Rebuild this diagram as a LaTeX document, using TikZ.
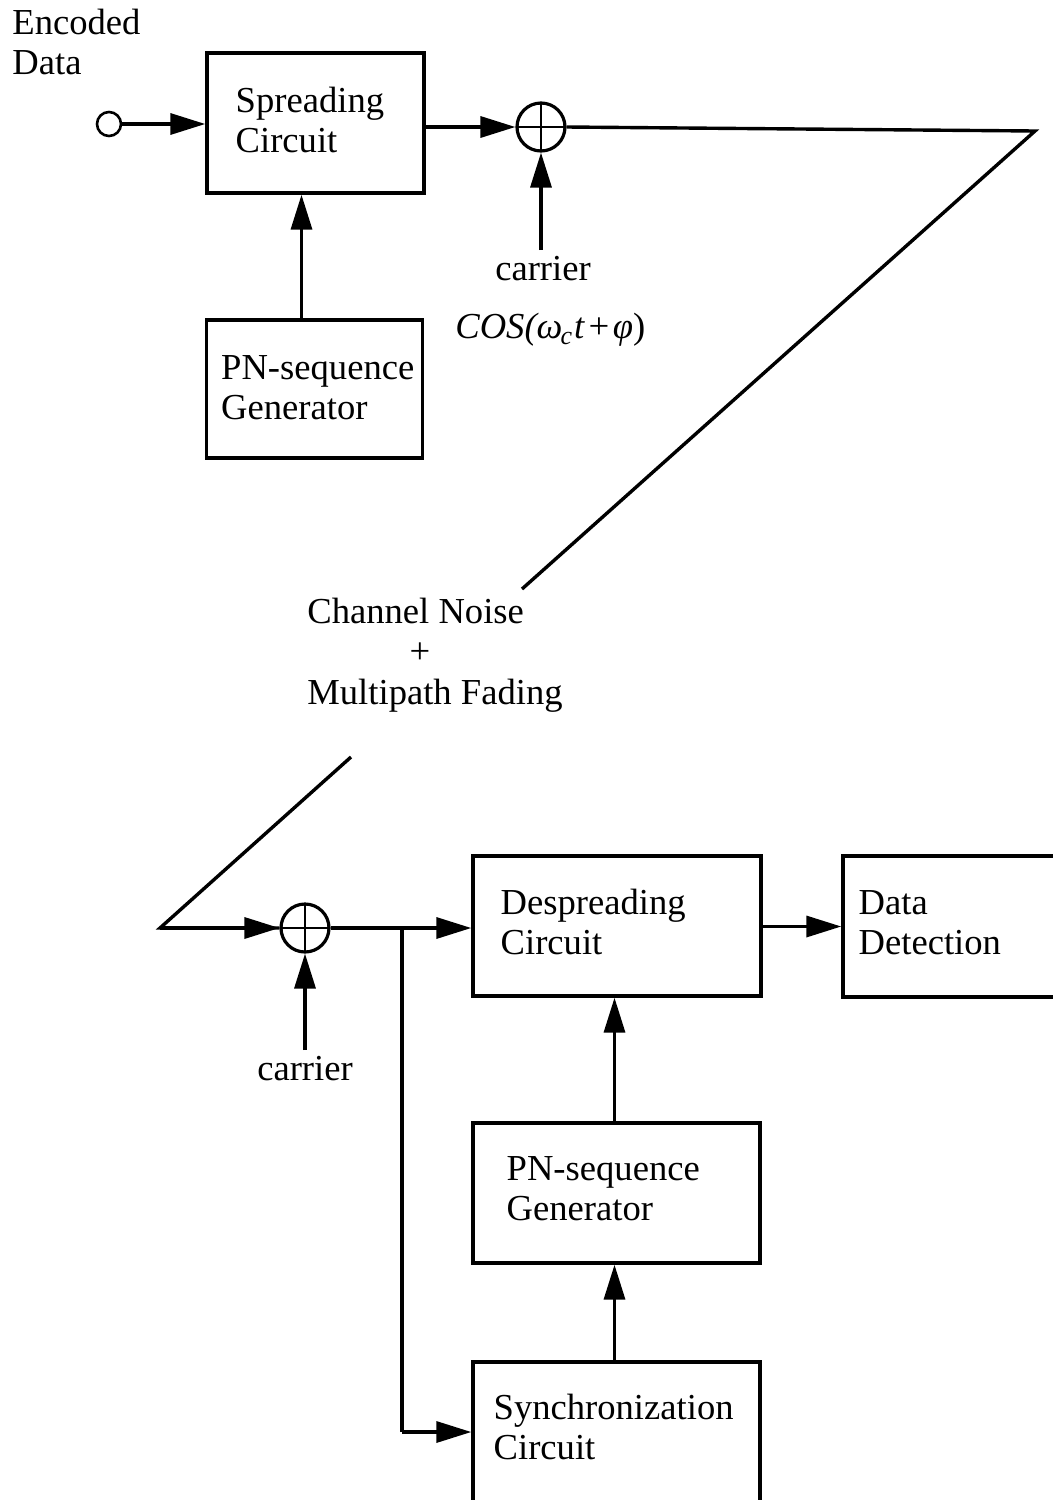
\documentclass[tikz,border=0pt]{standalone}
\usepackage{fontspec}
\setmainfont{Liberation Serif}
\usetikzlibrary{arrows.meta}

\tikzset{
  wire/.style={line width=1.7pt},
  arr/.style={wire, -{Triangle[length=17.5pt,width=10.5pt]}},
  blk/.style={draw, line width=1.7pt, inner sep=0pt},
  lbl/.style={inner sep=0pt, align=left, font=\fontsize{18.3}{20}\selectfont},
  mixer/.style={circle, draw, line width=1.6pt, minimum size=24pt, inner sep=0pt,
    path picture={
      \draw[line width=1.2pt] (path picture bounding box.north) -- (path picture bounding box.south)
                              (path picture bounding box.west) -- (path picture bounding box.east);}},
}

\begin{document}
\begin{tikzpicture}[x=0.5pt,y=-0.5pt]
\useasboundingbox (0,0) rectangle (1053,1500);

% ---------------- transmitter ----------------
\node[lbl, anchor=north west] (enc) at (12,9) {Encoded\\Data};
\node[circle, draw, line width=1.3pt, minimum size=12pt, inner sep=0pt] (src) at (109,124) {};

\node[blk, minimum width=108.5pt, minimum height=70pt] (spread) at (315.5,123) {};
\node[lbl, anchor=west] (spreadT) at ([xshift=15pt,yshift=1.5pt]spread.west) {Spreading\\Circuit};

\node[blk, minimum width=108pt, minimum height=69pt] (pn1) at (314.5,389) {};
\node[lbl, anchor=west] (pn1T) at ([xshift=8pt,yshift=0.5pt]pn1.west) {PN-sequence\\Generator};

\node[mixer] (sum1) at (541,127) {};
\node[lbl, anchor=base] (car1) at (543,280) {carrier};
\node[lbl, anchor=base west] (cos) at (455,338)
  {\itshape COS(ω\kern-1pt\raisebox{-3pt}{\fontsize{13}{13}\selectfont c}\kern1pt t\kern1pt+\kern1pt φ\upshape)};

\coordinate (tc) at (1035,131);
\coordinate (te) at (522,589);

\draw[arr] (src.east) -- (spread.west |- src);
\draw[arr] (spread.east |- sum1) -- (sum1.west);
\draw[arr] ([xshift=-6.5pt]pn1.north) -- ([xshift=-6.5pt]pn1.north |- spread.south);
\draw[arr] (sum1 |- 0,250) -- (sum1.south);
\draw[wire, line join=miter] (sum1.east) -- (tc) -- (te);

% ---------------- channel ----------------
\node[lbl, anchor=base west] (chan) at (307,623) {Channel Noise};
\node[lbl, anchor=base] (plus) at (420,663) {+};
\node[lbl, anchor=base west] (fade) at (307,704) {Multipath Fading};

% ---------------- receiver ----------------
\coordinate (rs) at (351,757);
\coordinate (rc) at (160,928);
\node[mixer] (sum2) at (305,928) {};
\node[lbl, anchor=base] (car2) at (305,1080) {carrier};

\node[blk, minimum width=144pt, minimum height=70pt] (desp) at (617,926) {};
\node[lbl, anchor=west] (despT) at ([xshift=14.5pt,yshift=2pt]desp.west) {Despreading\\Circuit};

\node[blk, minimum width=108pt, minimum height=70.5pt] (det) at (951,926.5) {};
\node[lbl, anchor=west] (detT) at ([xshift=8.5pt,yshift=2pt]det.west) {Data\\Detection};

\node[blk, minimum width=143.5pt, minimum height=70pt] (pn2) at (616.5,1193) {};
\node[lbl, anchor=west] (pn2T) at ([xshift=17.5pt,yshift=2pt]pn2.west) {PN-sequence\\Generator};

\node[blk, minimum width=143.5pt, minimum height=70pt] (sync) at (616.5,1432) {};
\node[lbl, anchor=west] (syncT) at ([xshift=11pt,yshift=2.5pt]sync.west) {Synchronization\\Circuit};

\coordinate (jn) at (402,928);

\draw[wire, line join=miter] (rs) -- (rc) -- (sum2.west);
\draw[arr] (rc) -- (sum2.west);
\draw[arr] (sum2 |- 0,1050) -- (sum2.south);
\draw[arr] (sum2.east) -- (desp.west |- sum2);
\draw[wire] (jn) -- (jn |- sync.west);
\draw[arr] (jn |- sync.west) -- (sync.west);
\draw[arr] (desp.east |- det.west) -- (det.west);
\draw[arr] ([xshift=-1pt]pn2.north) -- ([xshift=-1pt]pn2.north |- desp.south);
\draw[arr] ([xshift=-1pt]sync.north) -- ([xshift=-1pt]sync.north |- pn2.south);
\end{tikzpicture}
\end{document}
